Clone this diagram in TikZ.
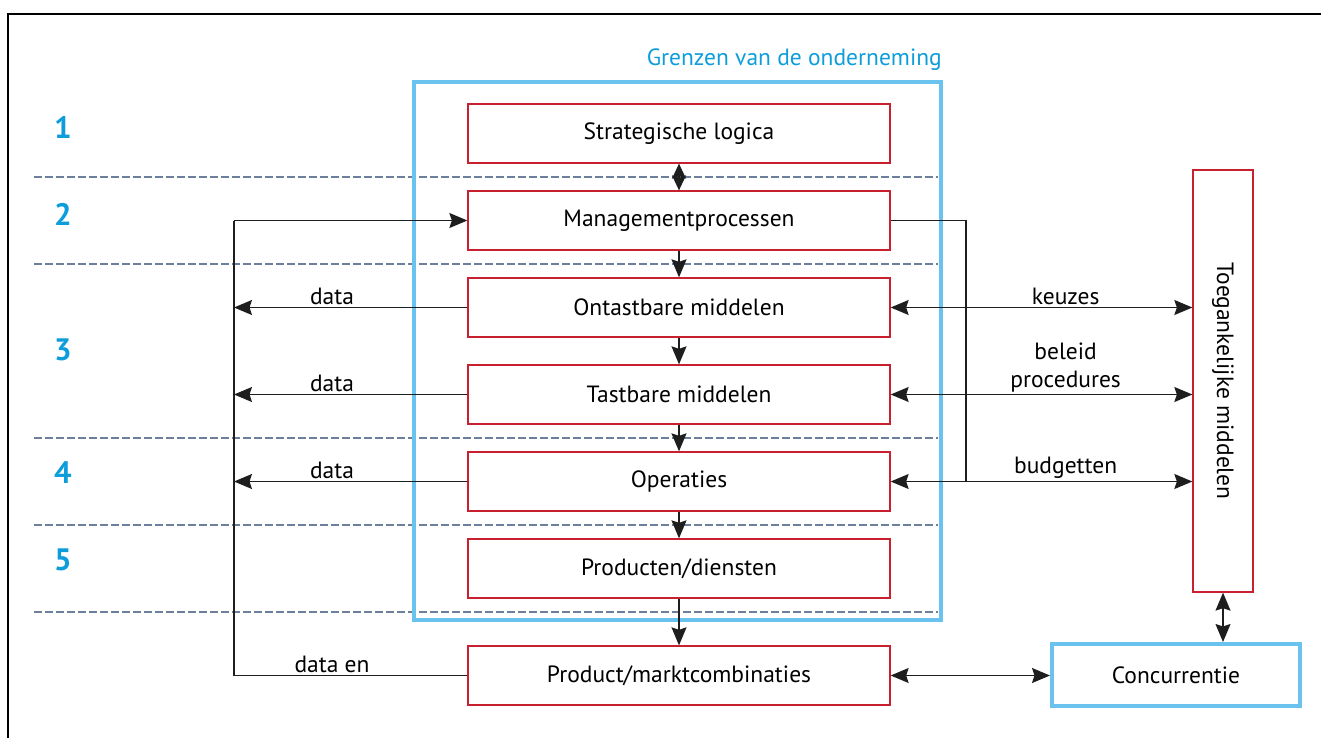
\documentclass[tikz,border=0pt]{standalone}
\usepackage{fontspec}
\setmainfont{PT Sans}
\usetikzlibrary{arrows.meta}
\definecolor{boxred}{RGB}{200,32,47}
\definecolor{edgeblue}{RGB}{105,195,238}
\definecolor{numblue}{RGB}{14,157,219}
\definecolor{dashgray}{RGB}{108,128,156}
\definecolor{linegray}{RGB}{30,30,30}
\newcommand{\txtsize}{\fontsize{23.5}{28}\selectfont}
\tikzset{
  level/.style={draw=boxred, line width=1.3pt, minimum width=422pt, minimum height=59pt,
    font=\txtsize, inner sep=0pt},
  bound/.style={draw=edgeblue, line width=4.5pt},
  divider/.style={draw=dashgray, line width=2.6pt, dash pattern=on 8pt off 3pt},
  wire/.style={draw=linegray, line width=1.4pt},
  headone/.style={-{Stealth[length=18pt,width=15pt,inset=2.5pt]}},
  headtwo/.style={{Stealth[length=18pt,width=15pt,inset=2.5pt]}-{Stealth[length=18pt,width=15pt,inset=2.5pt]}},
  shorthead/.style={{Stealth[length=15pt,width=14pt,inset=2.5pt]}-{Stealth[length=15pt,width=14pt,inset=2.5pt]}},
  lbl/.style={font=\txtsize, inner sep=2pt},
  num/.style={font=\fontsize{31}{34}\selectfont\bfseries, text=numblue}
}
\begin{document}
\begin{tikzpicture}[x=1pt,y=-1pt]
\useasboundingbox (0,0) rectangle (1321,738);
% outer frame
\draw[line width=1.5pt] (8,738) -- (8,14) -- (1321,14);

% layer dividers
\foreach \yy in {177,264,438,525,612}
  \draw[divider] (34,\yy) -- (938,\yy);

% layer numbers
\node[num] (n1) at (63,127) {1};
\node[num] (n2) at (63,214) {2};
\node[num] (n3) at (63,350) {3};
\node[num] (n4) at (63,473) {4};
\node[num] (n5) at (63,560) {5};

% company boundary
\draw[bound] (414,82) rectangle (941,620);
\node[font=\txtsize, text=numblue, anchor=east, inner sep=0pt] (grens) at (942,60) {Grenzen van de onderneming};

% levels
\node[level] (strat)  at (679,133.5) {Strategische logica};
\node[level] (mgmt)   at (679,220.5) {Managementprocessen};
\node[level] (ontast) at (679,307.5) {Ontastbare middelen};
\node[level] (tast)   at (679,394.5) {Tastbare middelen};
\node[level] (oper)   at (679,481.5) {Operaties};
\node[level] (prod)   at (679,568.5) {Producten/diensten};
\node[level] (pmc)    at (679,675.5) {Product/marktcombinaties};

% accessible resources and competition
\node[draw=boxred, line width=1.3pt, minimum width=60pt, minimum height=422pt] (toeg) at (1223,381) {};
\node[rotate=-90, font=\txtsize] (toegtxt) at (toeg.center) {Toegankelijke middelen};
\node[draw=edgeblue, line width=4pt, minimum width=248pt, minimum height=62pt,
      font=\txtsize] (conc) at (1176,675) {Concurrentie};

% vertical chain
\draw[wire, shorthead] (strat) -- (mgmt);
\draw[wire, headone] (mgmt) -- (ontast);
\draw[wire, headone] (ontast) -- (tast);
\draw[wire, headone] (tast) -- (oper);
\draw[wire, headone] (oper) -- (prod);
\draw[wire, headone] (prod) -- (pmc);

% feedback loop on the left
\coordinate (ltop) at (234,220.5);
\coordinate (lbot) at (234,675.5);
\draw[wire] (pmc.west) -- node[lbl, above, pos=0.58] {data en} (lbot) -- (ltop);
\draw[wire, headone] (ltop) -- (mgmt.west);
\draw[wire, headone] (ontast.west) -- node[lbl, above, pos=0.58] {data} (ontast.west -| ltop);
\draw[wire, headone] (tast.west) -- node[lbl, above, pos=0.58] {data} (tast.west -| ltop);
\draw[wire, headone] (oper.west) -- node[lbl, above, pos=0.58] {data} (oper.west -| ltop);

% management link on the right
\coordinate (rtop) at (966,220.5);
\draw[wire] (mgmt.east) -- (rtop) -- (rtop |- oper.east);

% exchanges with accessible resources
\draw[wire, headtwo] (ontast.east) -- node[lbl, above, pos=0.58] {keuzes} (ontast.east -| toeg.west);
\draw[wire, headtwo] (tast.east) -- node[lbl, above, pos=0.58, align=center] {beleid\\procedures} (tast.east -| toeg.west);
\draw[wire, headtwo] (oper.east) -- node[lbl, above, pos=0.58] {budgetten} (oper.east -| toeg.west);
\draw[wire, headtwo] (toeg.south) -- (conc.north -| toeg.south);
\draw[wire, headtwo] (pmc.east) -- (pmc.east -| conc.west);
\end{tikzpicture}
\end{document}
